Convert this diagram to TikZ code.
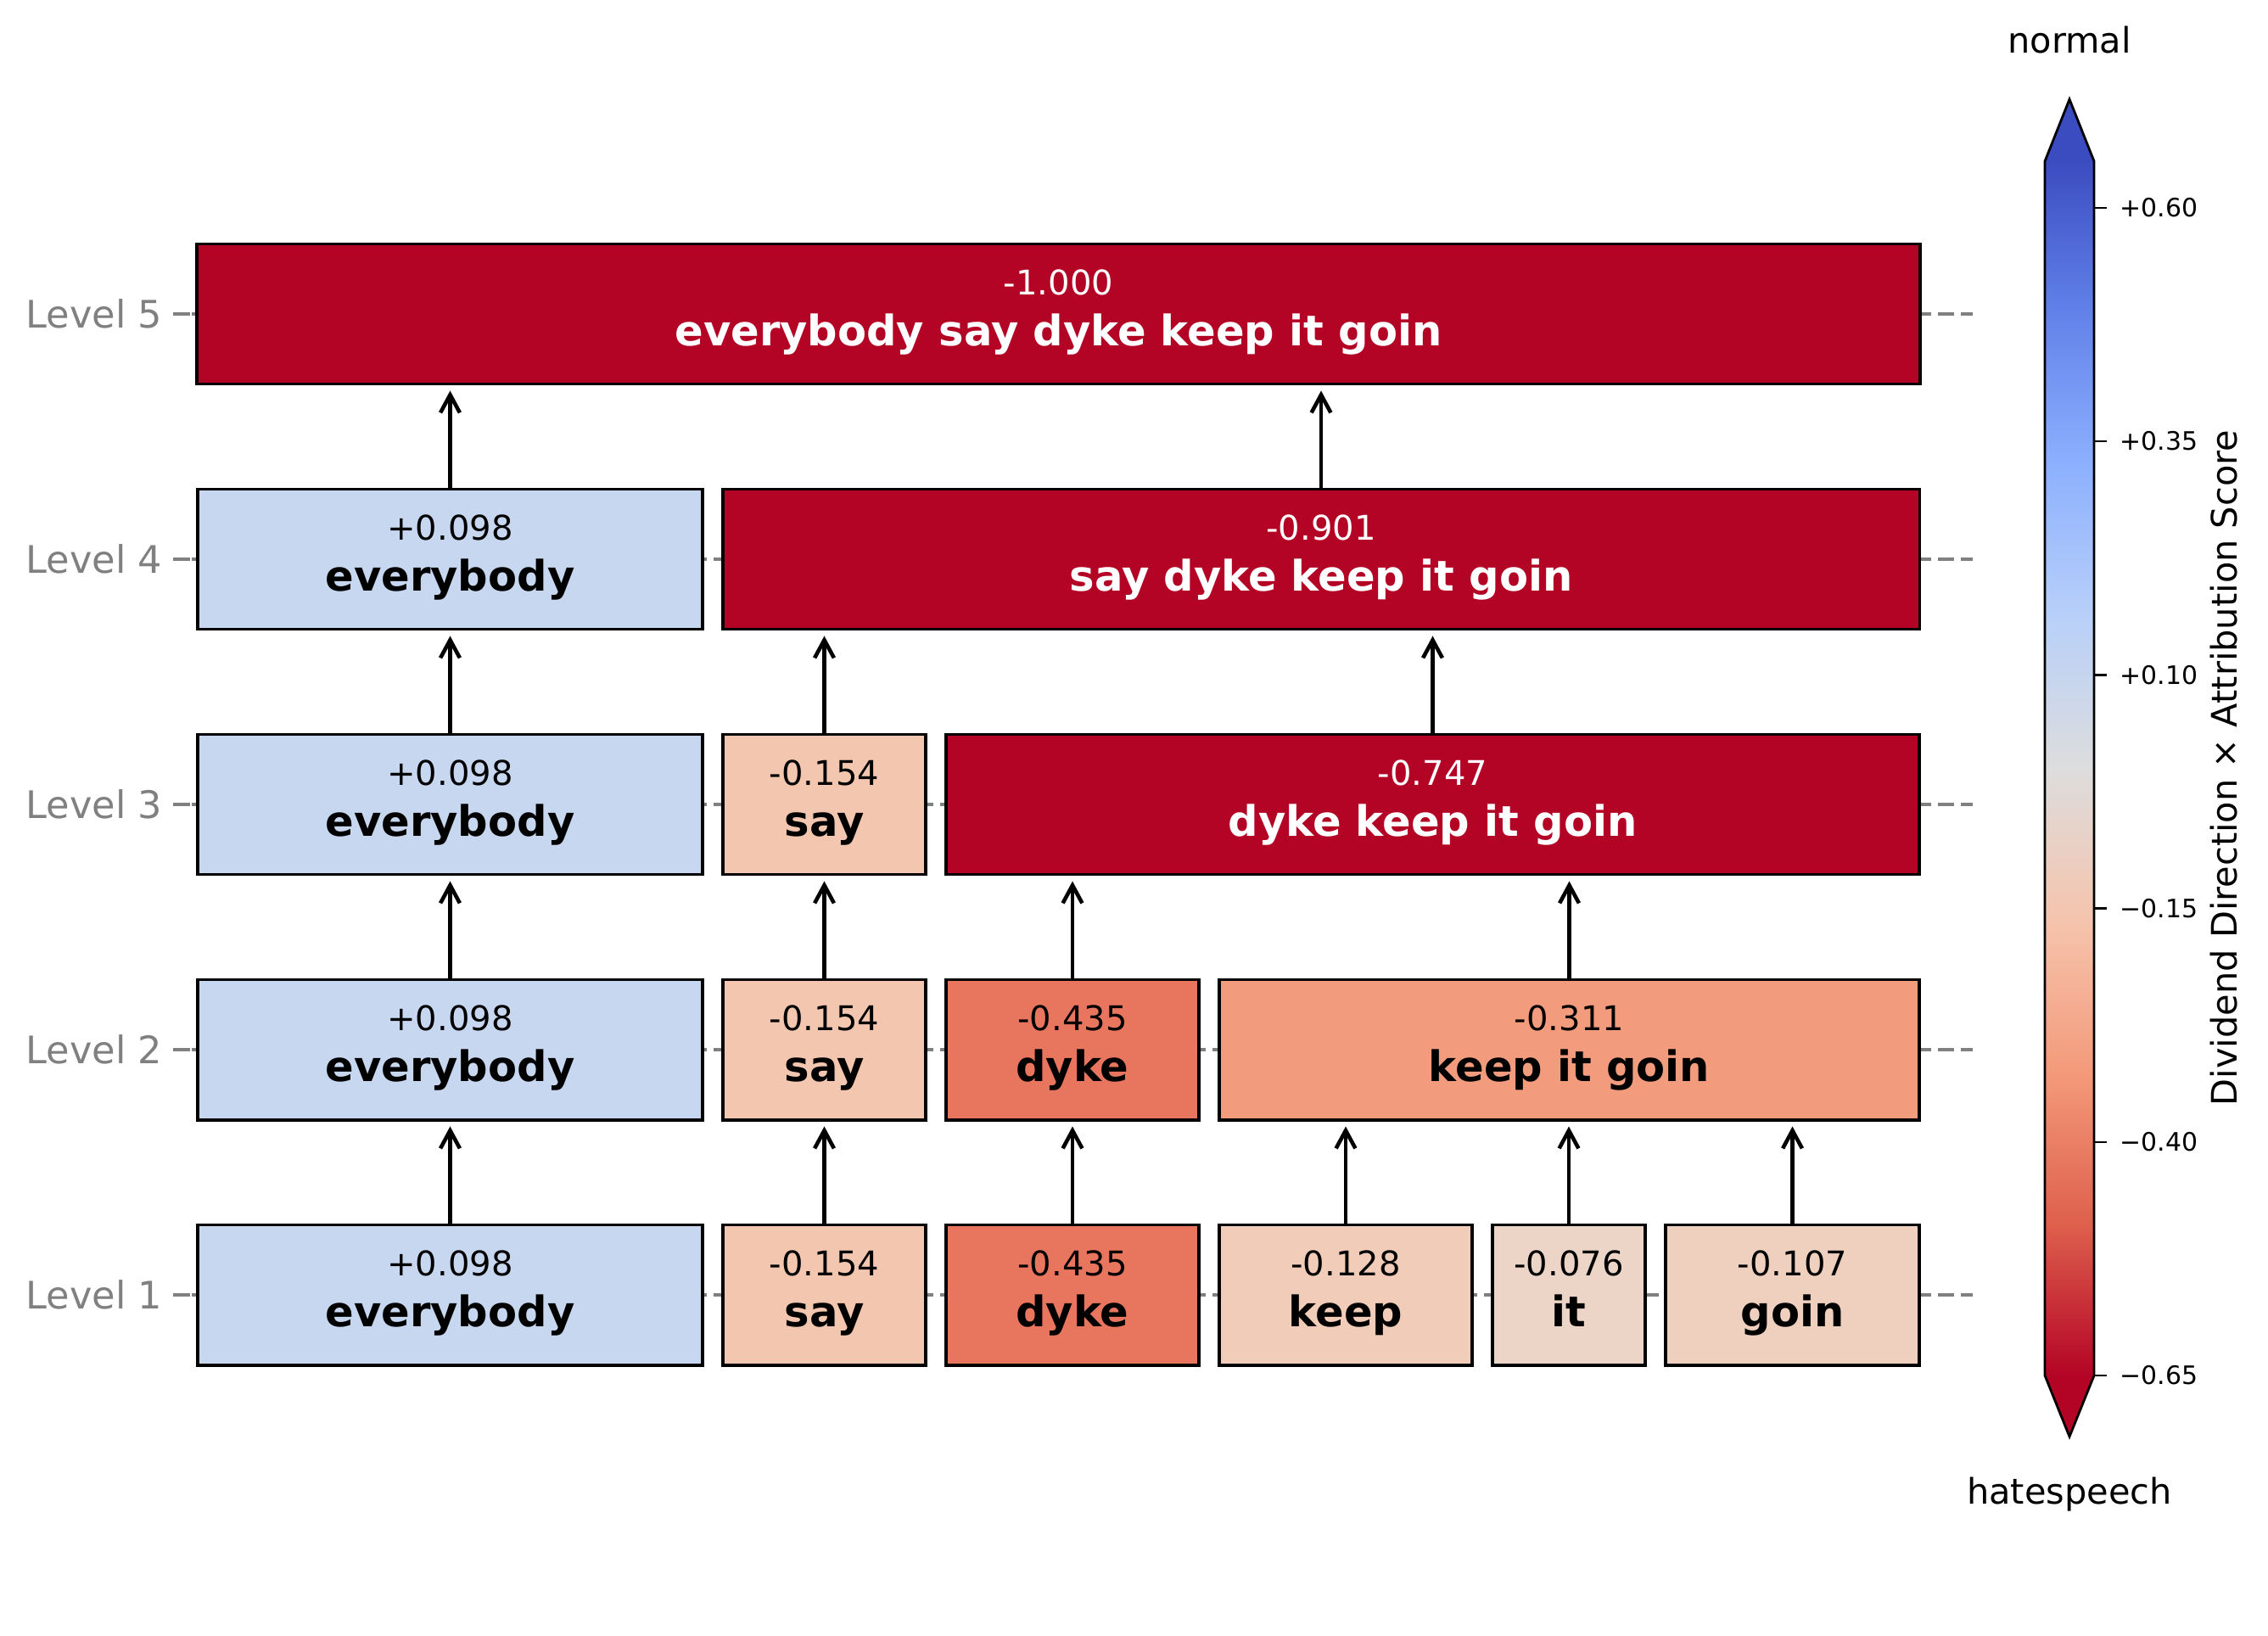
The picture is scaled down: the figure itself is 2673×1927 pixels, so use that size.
\documentclass[tikz,border=0pt]{standalone}
\usepackage{fontspec}
\setmainfont{DejaVu Sans}
\usetikzlibrary{arrows.meta, positioning}

\definecolor{posblue}{RGB}{199,215,240}
\definecolor{saycol}{RGB}{243,198,175}
\definecolor{dykecol}{RGB}{232,117,94}
\definecolor{keepcol}{RGB}{241,204,184}
\definecolor{itcol}{RGB}{236,212,198}
\definecolor{goincol}{RGB}{239,208,191}
\definecolor{kigcol}{RGB}{243,156,125}
\definecolor{hate}{RGB}{180,4,38}
\definecolor{gridgray}{RGB}{128,128,128}
% coolwarm samples, blue (top) to red (bottom)
\definecolor{cwA}{RGB}{59,76,192}
\definecolor{cwB}{RGB}{98,130,234}
\definecolor{cwC}{RGB}{141,176,254}
\definecolor{cwD}{RGB}{184,208,249}
\definecolor{cwE}{RGB}{221,221,221}
\definecolor{cwF}{RGB}{245,196,173}
\definecolor{cwG}{RGB}{244,154,123}
\definecolor{cwH}{RGB}{222,96,77}
\definecolor{cwI}{RGB}{180,4,38}
\pgfdeclareverticalshading{coolbar}{100bp}{color(0bp)=(cwI); color(25bp)=(cwI);
  color(31.25bp)=(cwH); color(37.5bp)=(cwG); color(43.75bp)=(cwF); color(50bp)=(cwE);
  color(56.25bp)=(cwD); color(62.5bp)=(cwC); color(68.75bp)=(cwB); color(75bp)=(cwA);
  color(100bp)=(cwA)}

\newcommand{\tokval}[1]{{\fontsize{11.4}{17.1}\selectfont #1}}
\newcommand{\tokword}[1]{{\fontsize{14.1}{17.1}\selectfont\bfseries #1}}

\tikzset{
  tok/.style={draw=black, line width=1.1pt, minimum height=1.65cm, inner sep=0pt,
    align=center, text height=21.3pt, text depth=0pt, font=\fontsize{11.4}{17.1}\selectfont},
  lvl/.style={anchor=east, inner sep=0pt, text=gridgray, font=\fontsize{12.7}{15}\selectfont},
  lvtick/.style={gridgray, line width=1.2pt},
  gridline/.style={gridgray, line width=1.2pt, dash pattern=on 5.3pt off 2.3pt},
  cbtick/.style={anchor=west, inner sep=0pt, font=\fontsize{8.5}{10}\selectfont},
  cbtext/.style={inner sep=0pt, font=\fontsize{11.8}{13}\selectfont}
}

\begin{document}
\begin{tikzpicture}[x=0.01cm, y=-0.01cm, >={Straight Barb[length=6pt,width=6.5pt]}]
	\useasboundingbox (0,0) rectangle (2673,1927);

	% levels and grid
	\node[lvl] (lv5) at (192,370) {Level 5};
	\node[lvl] (lv4) at (192,659) {Level 4};
	\node[lvl] (lv3) at (192,948) {Level 3};
	\node[lvl] (lv2) at (192,1237) {Level 2};
	\node[lvl] (lv1) at (192,1526) {Level 1};
	\draw[lvtick] (204,370) -- (224,370);
	\draw[lvtick] (204,659) -- (224,659);
	\draw[lvtick] (204,948) -- (224,948);
	\draw[lvtick] (204,1237) -- (224,1237);
	\draw[lvtick] (204,1526) -- (224,1526);
	\draw[gridline] (226,370) -- (2325,370);
	\draw[gridline] (226,659) -- (2325,659);
	\draw[gridline] (226,948) -- (2325,948);
	\draw[gridline] (226,1237) -- (2325,1237);
	\draw[gridline] (226,1526) -- (2325,1526);

	% level 1
	\node[tok, fill=posblue, minimum width=5.95cm] (e1) at (530.5,1526) {\tokval{+0.098}\\\tokword{everybody}};
	\node[tok, fill=saycol, minimum width=2.39cm] (s1) at (971.5,1526) {\tokval{-0.154}\\\tokword{say}};
	\node[tok, fill=dykecol, minimum width=2.98cm] (d1) at (1264,1526) {\tokval{-0.435}\\\tokword{dyke}};
	\node[tok, fill=keepcol, minimum width=2.98cm] (k1) at (1586,1526) {\tokval{-0.128}\\\tokword{keep}};
	\node[tok, fill=itcol, minimum width=1.80cm] (i1) at (1849,1526) {\tokval{-0.076}\\\tokword{it}};
	\node[tok, fill=goincol, minimum width=2.99cm] (g1) at (2112.5,1526) {\tokval{-0.107}\\\tokword{goin}};
	% level 2
	\node[tok, fill=posblue, minimum width=5.95cm] (e2) at (530.5,1237) {\tokval{+0.098}\\\tokword{everybody}};
	\node[tok, fill=saycol, minimum width=2.39cm] (s2) at (971.5,1237) {\tokval{-0.154}\\\tokword{say}};
	\node[tok, fill=dykecol, minimum width=2.98cm] (d2) at (1264,1237) {\tokval{-0.435}\\\tokword{dyke}};
	\node[tok, fill=kigcol, minimum width=8.25cm] (kig2) at (1849.5,1237) {\tokval{-0.311}\\\tokword{keep it goin}};
	% level 3
	\node[tok, fill=posblue, minimum width=5.95cm] (e3) at (530.5,948) {\tokval{+0.098}\\\tokword{everybody}};
	\node[tok, fill=saycol, minimum width=2.39cm] (s3) at (971.5,948) {\tokval{-0.154}\\\tokword{say}};
	\node[tok, fill=hate, text=white, minimum width=11.47cm] (dkig3) at (1688.5,948) {\tokval{-0.747}\\\tokword{dyke keep it goin}};
	% level 4
	\node[tok, fill=posblue, minimum width=5.95cm] (e4) at (530.5,659) {\tokval{+0.098}\\\tokword{everybody}};
	\node[tok, fill=hate, text=white, minimum width=14.10cm] (sdkig4) at (1557,659) {\tokval{-0.901}\\\tokword{say dyke keep it goin}};
	% level 5
	\node[tok, fill=hate, text=white, minimum width=20.29cm] (all5) at (1247.5,370) {\tokval{-1.000}\\\tokword{everybody say dyke keep it goin}};

	\path [->, line width=1.3pt, shorten >=1.7pt]
		(e1.north) edge (e1.north |- e2.south)
		(s1.north) edge (s1.north |- s2.south)
		(d1.north) edge (d1.north |- d2.south)
		(k1.north) edge (k1.north |- kig2.south)
		(i1.north) edge (i1.north |- kig2.south)
		(g1.north) edge (g1.north |- kig2.south)

		(e2.north) edge (e2.north |- e3.south)
		(s2.north) edge (s2.north |- s3.south)
		(d2.north) edge (d2.north |- dkig3.south)
		(kig2.north) edge (kig2.north |- dkig3.south)

		(e3.north) edge (e3.north |- e4.south)
		(s3.north) edge (s3.north |- sdkig4.south)
		(dkig3.north) edge (dkig3.north |- sdkig4.south)

		(e4.north) edge (e4.north |- all5.south)
		(sdkig4.north) edge (sdkig4.north |- all5.south)
		;

	% colour bar
	\shade[shading=coolbar] (2410,190) rectangle (2468,1621);
	\fill[cwA] (2410,190) -- (2439,117) -- (2468,190) -- cycle;
	\fill[cwI] (2410,1621) -- (2439,1693) -- (2468,1621) -- cycle;
	\draw[line width=0.8pt, line join=miter] (2439,117) -- (2468,190) -- (2468,1621)
		-- (2439,1693) -- (2410,1621) -- (2410,190) -- cycle;
	\draw[line width=0.8pt] (2468,245) -- (2483,245);
	\draw[line width=0.8pt] (2468,520) -- (2483,520);
	\draw[line width=0.8pt] (2468,795.5) -- (2483,795.5);
	\draw[line width=0.8pt] (2468,1070.5) -- (2483,1070.5);
	\draw[line width=0.8pt] (2468,1346) -- (2483,1346);
	\draw[line width=0.8pt] (2468,1621) -- (2483,1621);
	\node[cbtick] (t1) at (2498,245) {+0.60};
	\node[cbtick] (t2) at (2498,520) {+0.35};
	\node[cbtick] (t3) at (2498,795.5) {+0.10};
	\node[cbtick] (t4) at (2498,1070.5) {−0.15};
	\node[cbtick] (t5) at (2498,1346) {−0.40};
	\node[cbtick] (t6) at (2498,1621) {−0.65};
	\node[cbtext, anchor=base] (normal) at (2439,62) {normal};
	\node[cbtext, anchor=base] (hatespeech) at (2439,1772) {hatespeech};
	\node[cbtext, rotate=90] (cblabel) at (2621,905) {Dividend Direction × Attribution Score};
\end{tikzpicture}
\end{document}
